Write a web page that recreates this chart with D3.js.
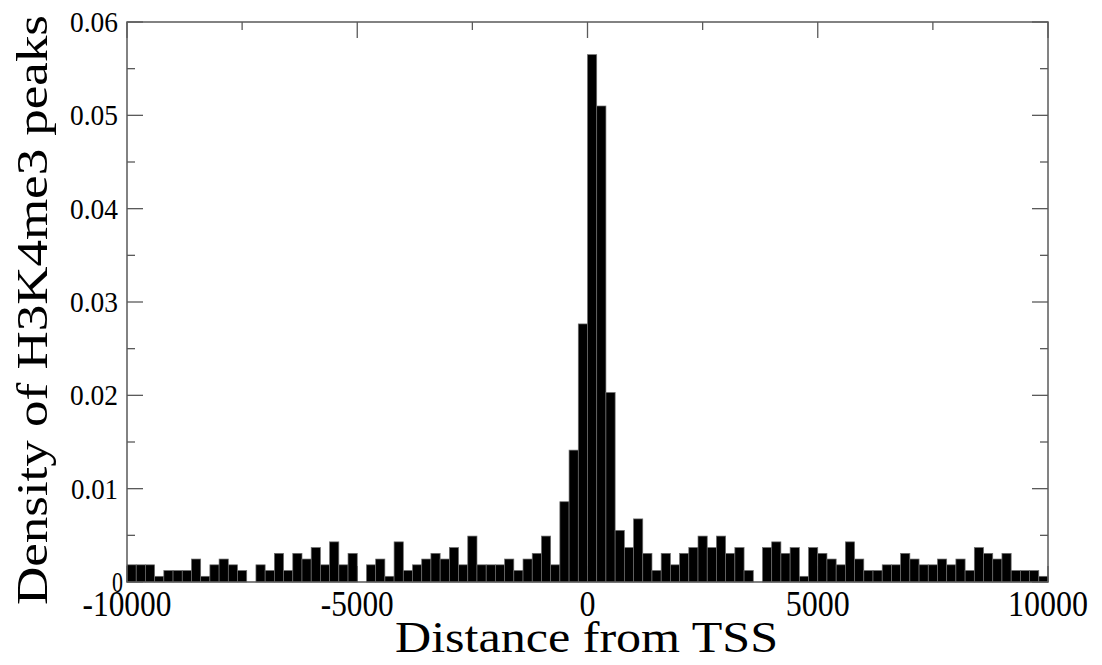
<!DOCTYPE html>
<html>
<head>
<meta charset="utf-8">
<script src="https://cdn.jsdelivr.net/npm/d3@7/dist/d3.min.js"></script>
<style>
  html, body { margin: 0; padding: 0; background: #fff; }
  svg { display: block; }
</style>
</head>
<body>
<svg id="chart" width="1102" height="665"></svg>
<script>
// ---- data ----
const binStart = -10000;
const binWidth = 200;
const density = [
  0.00184, 0.00184, 0.00184, 0.00061, 0.00123, 0.00123, 0.00123, 0.00246, 0.00061, 0.00184,
  0.00246, 0.00184, 0.00123, 0.00000, 0.00184, 0.00123, 0.00307, 0.00123, 0.00307, 0.00246,
  0.00369, 0.00184, 0.00430, 0.00184, 0.00307, 0.00000, 0.00184, 0.00246, 0.00061, 0.00430,
  0.00123, 0.00184, 0.00246, 0.00307, 0.00246, 0.00369, 0.00184, 0.00492, 0.00184, 0.00184,
  0.00184, 0.00246, 0.00123, 0.00246, 0.00307, 0.00492, 0.00184, 0.00860, 0.01413, 0.02765,
  0.05650, 0.05100, 0.02030, 0.00553, 0.00369, 0.00676, 0.00307, 0.00123, 0.00307, 0.00184,
  0.00307, 0.00369, 0.00492, 0.00369, 0.00492, 0.00307, 0.00369, 0.00123, 0.00000, 0.00369,
  0.00430, 0.00307, 0.00369, 0.00061, 0.00369, 0.00307, 0.00246, 0.00184, 0.00430, 0.00246,
  0.00123, 0.00123, 0.00184, 0.00184, 0.00307, 0.00246, 0.00184, 0.00184, 0.00246, 0.00184,
  0.00246, 0.00123, 0.00369, 0.00307, 0.00246, 0.00307, 0.00123, 0.00123, 0.00123, 0.00061
];
const xTicks = [-10000, -5000, 0, 5000, 10000];
const xMinorTicks = [-7500, -2500, 2500, 7500];
const yTicks = [0, 0.01, 0.02, 0.03, 0.04, 0.05, 0.06];
const yTickLabels = ["0", "0.01", "0.02", "0.03", "0.04", "0.05", "0.06"];
const yMinorTicks = [0.005, 0.015, 0.025, 0.035, 0.045, 0.055];
const xLabel = "Distance from TSS";
const yLabel = "Density of H3K4me3 peaks";

// ---- font selection (pick a Times-like serif if installed) ----
const cv = document.createElement("canvas").getContext("2d");
function hasFont(name) {
  const s = "Density 0123456789 TSS";
  cv.font = "100px monospace"; const w0 = cv.measureText(s).width;
  cv.font = `100px "${name}", monospace`; const w1 = cv.measureText(s).width;
  cv.font = "100px sans-serif"; const w2 = cv.measureText(s).width;
  cv.font = `100px "${name}", sans-serif`; const w3 = cv.measureText(s).width;
  return Math.abs(w1 - w0) > 0.5 || Math.abs(w3 - w2) > 0.5;
}
const candidates = ["Liberation Serif", "Times New Roman", "Tinos", "Nimbus Roman", "Nimbus Roman No9 L", "FreeSerif", "Noto Serif", "DejaVu Serif"];
const family = candidates.find(hasFont) || "serif";
const FF = `"${family}", serif`;
function sizeFor(sample, targetH) {
  cv.font = `100px ${FF}`;
  const m = cv.measureText(sample);
  const h = m.actualBoundingBoxAscent + m.actualBoundingBoxDescent;
  return 100 * targetH / h;
}
const yTickSize = sizeFor("0", 19.5);
const xTickSize = sizeFor("0", 25);
const titleSize = sizeFor("D", 29);

// ---- layout ----
const L = 127, R = 1048, T = 22, B = 582;
const svg = d3.select("#chart").attr("font-family", FF);
const x = d3.scaleLinear().domain([-10000, 10000]).range([L, R]);
const y = d3.scaleLinear().domain([0, 0.06]).range([B, T]);

const bins = density.map((v, i) => ({ x0: binStart + i * binWidth, x1: binStart + (i + 1) * binWidth, v }));

const frameColor = "#5a5a5a";

// ticks (inward) on all four sides
const tickG = svg.append("g").attr("stroke", frameColor).attr("stroke-width", 1.3);
yTicks.forEach(t => {
  tickG.append("line").attr("x1", L).attr("x2", L + 16).attr("y1", y(t)).attr("y2", y(t));
  tickG.append("line").attr("x1", R).attr("x2", R - 16).attr("y1", y(t)).attr("y2", y(t));
});
yMinorTicks.forEach(t => {
  tickG.append("line").attr("x1", L).attr("x2", L + 8).attr("y1", y(t)).attr("y2", y(t));
  tickG.append("line").attr("x1", R).attr("x2", R - 8).attr("y1", y(t)).attr("y2", y(t));
});
xTicks.forEach(t => {
  tickG.append("line").attr("x1", x(t)).attr("x2", x(t)).attr("y1", T).attr("y2", T + 16);
  tickG.append("line").attr("x1", x(t)).attr("x2", x(t)).attr("y1", B).attr("y2", B - 16);
});
xMinorTicks.forEach(t => {
  tickG.append("line").attr("x1", x(t)).attr("x2", x(t)).attr("y1", T).attr("y2", T + 8);
  tickG.append("line").attr("x1", x(t)).attr("x2", x(t)).attr("y1", B).attr("y2", B - 8);
});

// bars
svg.append("g").selectAll("rect").data(bins.filter(d => d.v > 0)).join("rect")
  .attr("x", d => x(d.x0))
  .attr("width", d => x(d.x1) - x(d.x0))
  .attr("y", d => y(d.v))
  .attr("height", d => y(0) - y(d.v))
  .attr("fill", "#000")
  .attr("stroke", "#6e6e6e")
  .attr("stroke-width", 0.7);

// frame
svg.append("rect").attr("x", L).attr("y", T).attr("width", R - L).attr("height", B - T)
  .attr("fill", "none").attr("stroke", frameColor).attr("stroke-width", 1.5);

// y tick labels (widths fitted to reference)
const yTickWidth = { "0": 11, "0.01": 47, "0.02": 48, "0.03": 48, "0.04": 48, "0.05": 48, "0.06": 48 };
svg.append("g").selectAll("text").data(yTicks).join("text")
  .attr("x", d => d === 0 ? 123 : 118)
  .attr("y", d => y(d) + 10)
  .attr("text-anchor", "end")
  .attr("font-size", yTickSize)
  .attr("fill", "#000")
  .attr("textLength", (d, i) => yTickWidth[yTickLabels[i]])
  .attr("lengthAdjust", "spacingAndGlyphs")
  .text((d, i) => yTickLabels[i]);

// x tick labels (widths fitted to reference)
const xTickWidth = { "-10000": 89, "-5000": 73, "0": 16, "5000": 64, "10000": 80 };
svg.append("g").selectAll("text").data(xTicks).join("text")
  .attr("x", d => x(d))
  .attr("y", 616)
  .attr("text-anchor", "middle")
  .attr("font-size", xTickSize)
  .attr("fill", "#000")
  .attr("textLength", d => xTickWidth[String(d)])
  .attr("lengthAdjust", "spacingAndGlyphs")
  .text(d => String(d));

// axis titles
svg.append("text")
  .attr("x", 586.5).attr("y", 652)
  .attr("text-anchor", "middle")
  .attr("font-size", titleSize)
  .attr("fill", "#000")
  .attr("textLength", 383).attr("lengthAdjust", "spacingAndGlyphs")
  .text(xLabel);

svg.append("text")
  .attr("transform", "translate(47,310) rotate(-90)")
  .attr("text-anchor", "middle")
  .attr("font-size", titleSize)
  .attr("fill", "#000")
  .attr("textLength", 590).attr("lengthAdjust", "spacingAndGlyphs")
  .text(yLabel);
</script>
</body>
</html>
